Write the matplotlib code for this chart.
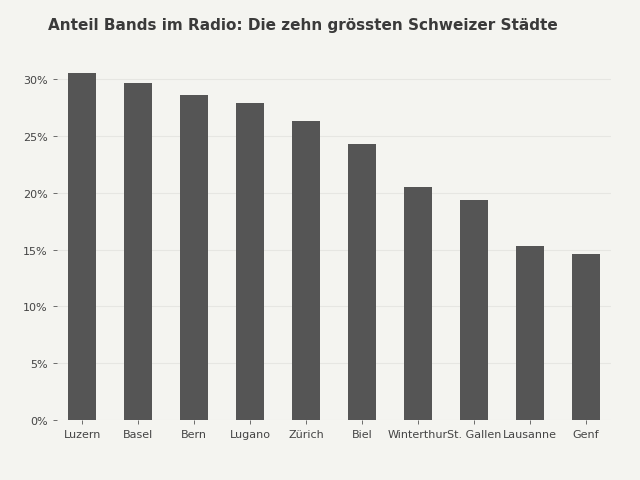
from matplotlib import pyplot as plt
from matplotlib.ticker import FuncFormatter

# data
cities = ["Luzern", "Basel", "Bern", "Lugano", "Zürich", "Biel",
          "Winterthur", "St. Gallen", "Lausanne", "Genf"]
share = [30.5, 29.7, 28.6, 27.9, 26.3, 24.3, 20.5, 19.4, 15.3, 14.6]

bg = "#f4f4f0"
fig = plt.figure(figsize=(6.4, 4.81), dpi=100, facecolor=bg)
ax = fig.add_axes([0.089, 0.125, 0.866, 0.732], facecolor=bg)

ax.bar(cities, share, width=0.5, color="#555555", zorder=2)
ax.set_ylim(0, 31)
ax.set_xlim(-0.45, 9.45)
ax.set_yticks([0, 5, 10, 15, 20, 25, 30])
ax.yaxis.set_major_formatter(FuncFormatter(lambda v, p: f"{v:.0f}%"))
ax.grid(axis="y", color="#e6e6e2", linewidth=0.8, zorder=0)
for s in ax.spines.values():
    s.set_visible(False)
ax.tick_params(axis="both", colors="#555555", labelcolor="#444444",
               labelsize=8, length=3, width=0.6)

fig.text(0.075, 0.948, "Anteil Bands im Radio: Die zehn grössten Schweizer Städte",
         fontsize=11, fontweight="bold", color="#3a3a3a", va="center")

plt.savefig("out.png", dpi=100, facecolor=bg)
